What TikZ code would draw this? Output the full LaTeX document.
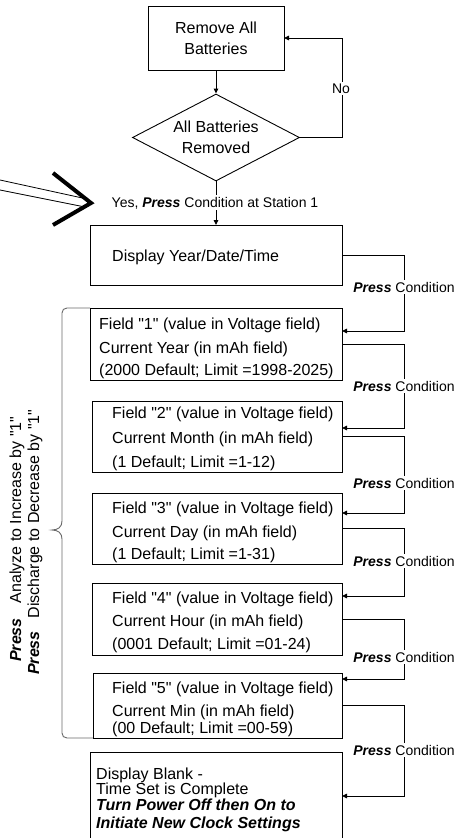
\documentclass[tikz,border=0pt]{standalone}
\usepackage{fontspec}
\setmainfont{Liberation Sans}[Ligatures=TeXOff]
\usetikzlibrary{arrows.meta,shapes.geometric}
\definecolor{brk}{RGB}{105,105,105}
\tikzset{
  box/.style={draw, line width=0.9pt, rectangle, inner sep=0pt, outer sep=0pt, anchor=north west},
  txt/.style={inner sep=0pt, anchor=base west, font=\fontsize{16}{19}\selectfont},
  ctxt/.style={txt, anchor=base},
  lbl/.style={fill=white, inner sep=1.5pt, anchor=base, font=\fontsize{14}{16}\selectfont},
  conn/.style={line width=0.9pt, -{Triangle[length=5pt,width=4.5pt]}},
}
\newcommand{\prs}{\textbf{\textit{Press}}}
\begin{document}
\begin{tikzpicture}[x=1pt,y=-1pt]
\useasboundingbox (0,0) rectangle (455,838);
\fill[white] (0,0) rectangle (455,838);

% bracket
\coordinate (bt) at (67,308);
\coordinate (bb) at (67,738);
\draw[brk, line width=0.9pt] (90,308) -- (bt) .. controls (64,308) and (62,310) .. (62,313)
  -- (62,521) .. controls (62,527) and (58,530) .. (52,530)
  .. controls (58,530) and (62,533) .. (62,539)
  -- (62,733) .. controls (62,736) and (64,738) .. (bb) -- (93,738);

% boxes
\node[box, minimum width=136, minimum height=64] (remove) at (148,6) {};
\node[diamond, draw, line width=0.9pt, aspect=1.92, minimum width=167, minimum height=87, inner sep=0pt] (dia) at (216,137.5) {};
\node[box, minimum width=252, minimum height=60] (disp) at (90,225) {};
\node[box, minimum width=252, minimum height=72] (f1) at (90,308) {};
\node[box, minimum width=250, minimum height=71] (f2) at (92,401) {};
\node[box, minimum width=250, minimum height=71] (f3) at (92,493) {};
\node[box, minimum width=250, minimum height=72] (f4) at (92,583) {};
\node[box, minimum width=249, minimum height=65] (f5) at (93,673) {};
\node[box, minimum width=252, minimum height=95] (fin) at (90,752) {};

% texts in boxes
\node[ctxt] (t1a) at (216,33) {Remove All};
\node[ctxt] (t1b) at (216,54) {Batteries};
\node[ctxt] (t2a) at (216,132) {All Batteries};
\node[ctxt] (t2b) at (216,153) {Removed};
\node[txt] (t3) at (112,261) {Display Year/Date/Time};
\node[txt] (t4a) at (99,329) {Field "1" (value in Voltage field)};
\node[txt] (t4b) at (99,353) {Current Year (in mAh field)};
\node[txt] (t4c) at (99,375) {(2000 Default; Limit =1998-2025)};
\node[txt] (t5a) at (112,418) {Field "2" (value in Voltage field)};
\node[txt] (t5b) at (112,443) {Current Month (in mAh field)};
\node[txt] (t5c) at (112,467) {(1 Default; Limit =1-12)};
\node[txt] (t6a) at (112,513) {Field "3" (value in Voltage field)};
\node[txt] (t6b) at (112,537) {Current Day (in mAh field)};
\node[txt] (t6c) at (112,559) {(1 Default; Limit =1-31)};
\node[txt] (t7a) at (112,603) {Field "4" (value in Voltage field)};
\node[txt] (t7b) at (112,626) {Current Hour (in mAh field)};
\node[txt] (t7c) at (112,649) {(0001 Default; Limit =01-24)};
\node[txt] (t8a) at (112,693) {Field "5" (value in Voltage field)};
\node[txt] (t8b) at (112,716) {Current Min (in mAh field)};
\node[txt] (t8c) at (112,733) {(00 Default; Limit =00-59)};
\node[txt] (t9a) at (96,779) {Display Blank -};
\node[txt] (t9b) at (96,794.5) {Time Set is Complete};
\node[txt] (t9c) at (96,810) {\textbf{\textit{Turn Power Off then On to}}};
\node[txt] (t9d) at (96,828) {\textbf{\textit{Initiate New Clock Settings}}};

% connectors
\draw[conn] (remove.south) -- (dia.north);
\draw[conn] (dia.east) -- ++(42,0) |- (remove.east);
\draw[conn] (dia.south) -- (disp.north);
\draw[conn] (disp.east) -- ++(62,0) |- ([yshift=13pt]f1.east);
\draw[conn] (f1.east) -- ++(62,0) |- ([yshift=8.5pt]f2.east);
\draw[conn] (f2.east) -- ++(62,0) |- ([yshift=15.5pt]f3.east);
\draw[conn] (f3.east) -- ++(62,0) |- ([yshift=23pt]f4.east);
\draw[conn] (f4.east) -- ++(62,0) |- ([yshift=26.5pt]f5.east);
\draw[conn] (f5.east) -- ++(62,0) |- ([yshift=3.5pt]fin.east);

% labels
\node[lbl] (no) at (341,93) {No};
\node[lbl] (yes) at (215,207) {Yes, \prs{} Condition at Station 1};
\node[lbl] (p0) at (404,292) {\prs{} Condition};
\node[lbl] (p1) at (404,391) {\prs{} Condition};
\node[lbl] (p2) at (404,488) {\prs{} Condition};
\node[lbl] (p3) at (404,566) {\prs{} Condition};
\node[lbl] (p4) at (404,662) {\prs{} Condition};
\node[lbl] (p5) at (404,755) {\prs{} Condition};

% rotated texts
\node[txt, rotate=90, anchor=base west] (inc) at (21,662) {\prs\hspace{15pt}Analyze to Increase by "1"};
\node[txt, rotate=90, anchor=base west] (dec) at (39,675) {\prs\hspace{13pt}Discharge to Decrease by "1"};

% big arrow
\draw[line width=0.8pt] (0,180) -- (87,199);
\draw[line width=0.8pt] (0,190) -- (85,207);
\draw[line width=4pt, line join=miter] (53,173) -- (91,203) -- (53,225);
\end{tikzpicture}
\end{document}
